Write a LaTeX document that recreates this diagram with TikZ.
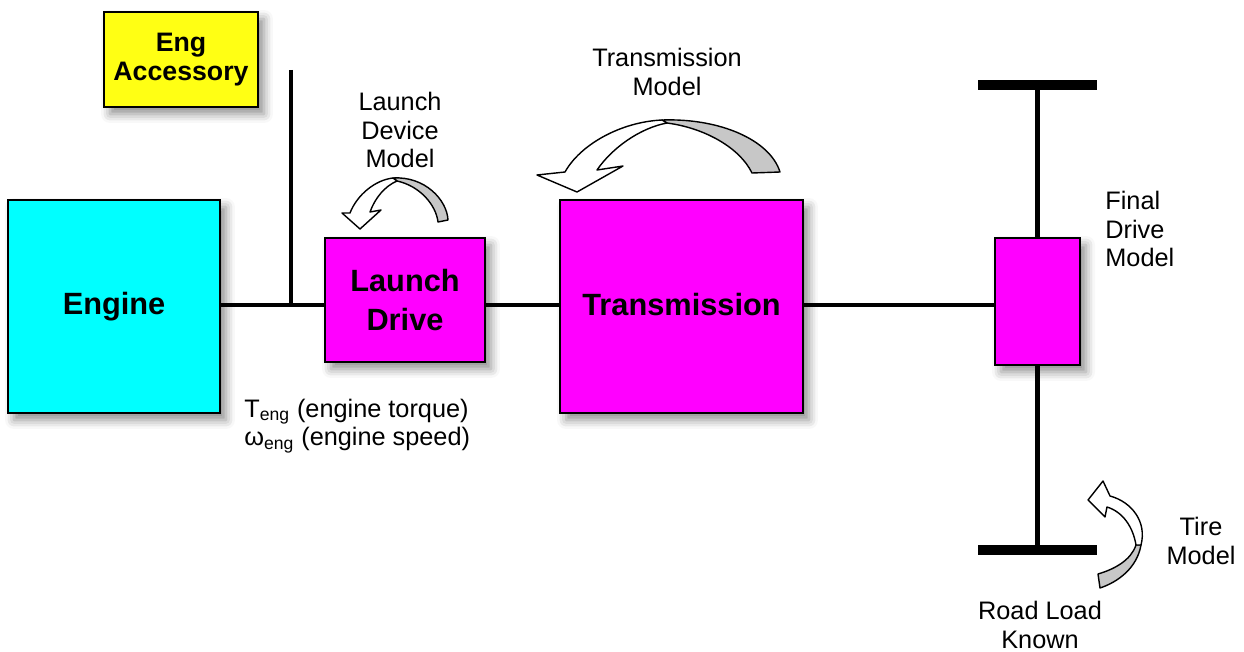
\documentclass[tikz,border=0pt]{standalone}
\usepackage{fontspec}
\setmainfont{Liberation Sans}
\usetikzlibrary{shadows.blur}
\definecolor{engcyan}{RGB}{0,255,255}
\definecolor{accyellow}{RGB}{255,255,20}
\definecolor{drvmagenta}{RGB}{255,0,255}

\begin{document}
\begin{tikzpicture}[x=0.02cm,y=-0.02cm]
			\tikzstyle{block} = [draw=black,line width=1.1pt,inner sep=0pt,align=center,font=\fontsize{17.5}{21}\selectfont\bfseries,blur shadow={shadow xshift=0.12cm,shadow yshift=-0.14cm,shadow blur radius=0.18cm,shadow opacity=45}];
			\tikzstyle{note} = [inner sep=0pt,font=\fontsize{14.4}{16.3}\selectfont];
			\tikzstyle{shaft} = [line width=2.3pt];
			\tikzstyle{ribfront} = [draw=black,fill=white,line width=0.8pt,line join=round];
			\tikzstyle{ribback} = [draw=black,fill=black!22,line width=0.8pt,line join=round];
			\useasboundingbox (0,0) rectangle (1244,652);
			\node[block,fill=engcyan,minimum width=4.24cm,minimum height=4.26cm] (engine) at (114,306.5) {Engine};
			\node[block,fill=accyellow,minimum width=3.08cm,minimum height=1.9cm,font=\fontsize{15.2}{16.5}\selectfont\bfseries] (acc) at (181,59.5) {Eng\\Accessory};
			\node[block,fill=drvmagenta,minimum width=3.2cm,minimum height=2.48cm] (launch) at (405,300) {\raisebox{-4pt}{\shortstack{Launch\\[6pt]Drive}}};
			\node[block,fill=drvmagenta,minimum width=4.86cm,minimum height=4.26cm] (trans) at (681.5,306.5) {\raisebox{3pt}{Transmission}};
			\node[block,fill=drvmagenta,minimum width=1.7cm,minimum height=2.54cm] (final) at (1037.5,301.5) {};
			\node[fill=black,inner sep=0pt,minimum width=2.38cm,minimum height=0.2cm] (topbar) at (1037.5,85) {};
			\node[fill=black,inner sep=0pt,minimum width=2.38cm,minimum height=0.2cm] (botbar) at (1037.5,550) {};
			\coordinate (s) at (0,305);
			\coordinate (acctop) at (291,70);
			\draw[shaft] (engine.east |- s) -- (launch.west |- s);
			\draw[shaft] (launch.east |- s) -- (trans.west |- s);
			\draw[shaft] (trans.east |- s) -- (final.west |- s);
			\draw[line width=2pt] (acctop) -- (acctop |- s);
			\draw[line width=2.8pt] (topbar) -- (final.north);
			\draw[line width=2.8pt] (final.south) -- (botbar);
			% labels
			\node[note,align=center] (launchlbl) at (400,130) {Launch\\Device\\Model};
			\node[note,align=center] (translbl) at (667,72) {Transmission\\Model};
			\node[note,align=left,anchor=west] (finallbl) at (1105,229) {Final\\Drive\\Model};
			\node[note,align=center] (tirelbl) at (1201,541) {Tire\\Model};
			\node[note,align=center] (roadlbl) at (1040,625) {Road Load\\Known};
			\node[note,align=left,anchor=west] (englbl) at (244,426) {T\textsubscript{eng} (engine torque)\\ω\textsubscript{eng} (engine speed)};
			% curved arrows
			\draw[ribback] (393,178) .. controls (425,176) and (447,200) .. (448,220) -- (438,222) .. controls (436,205) and (420,186) .. (397,181) -- cycle;
			\draw[ribfront] (393,178) .. controls (375,180) and (357,195) .. (350,213) -- (342,213) -- (360,229) -- (381,210) -- (370,212) .. controls (375,198) and (385,186) .. (397,181) -- cycle;
			\draw[ribback] (662,120) .. controls (720,118) and (770,140) .. (780,172) -- (752,173) .. controls (740,148) and (705,128) .. (667,123) -- cycle;
			\draw[ribfront] (662,120) .. controls (620,122) and (580,145) .. (565,172) -- (537,175) -- (577,192) -- (623,166) -- (597,170) .. controls (612,148) and (640,128) .. (667,123) -- cycle;
			\draw[ribback] (1141,545) .. controls (1137,568) and (1118,582) .. (1100,588) -- (1098,574) .. controls (1115,569) and (1131,560) .. (1136,545) -- cycle;
			\draw[ribfront] (1141,545) .. controls (1147,522) and (1132,502) .. (1110,496) -- (1103,481) -- (1088,500) -- (1105,517) -- (1107,507) .. controls (1123,512) and (1133,527) .. (1136,545) -- cycle;
		\end{tikzpicture}
\end{document}
